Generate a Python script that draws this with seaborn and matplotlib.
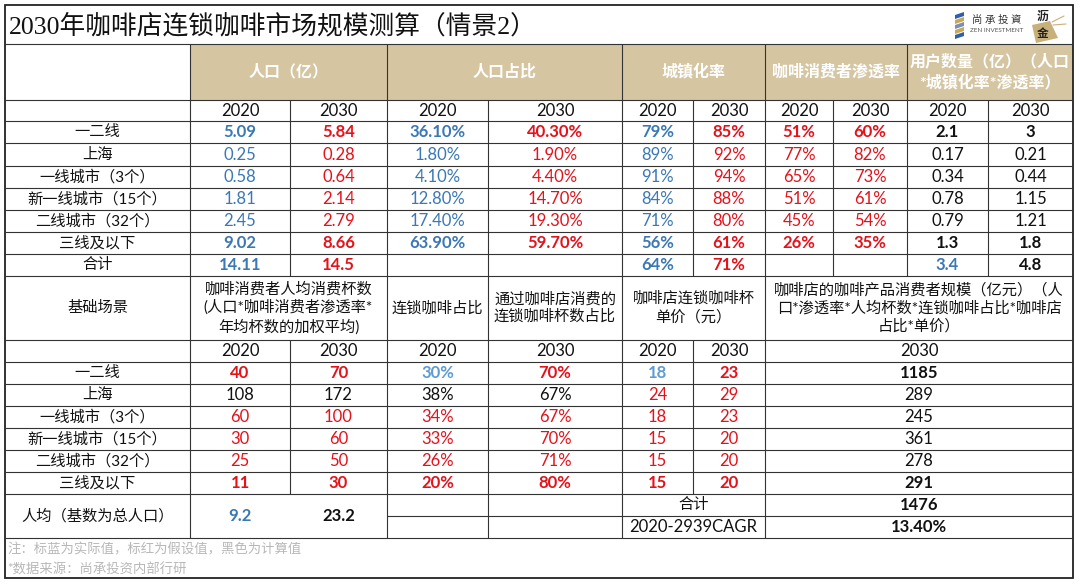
import matplotlib.pyplot as plt
import seaborn as sns
from matplotlib.patches import Rectangle, Polygon

# ---- data ----
regions = ['一二线', '上海', '一线城市（3个）', '新一线城市（15个）', '二线城市（32个）', '三线及以下']
pop_2020 = [5.09, 0.25, 0.58, 1.81, 2.45, 9.02]
pop_2030 = [5.84, 0.28, 0.64, 2.14, 2.79, 8.66]
share_2020 = [36.10, 1.80, 4.10, 12.80, 17.40, 63.90]
share_2030 = [40.30, 1.90, 4.40, 14.70, 19.30, 59.70]
urban_2020 = [79, 89, 91, 84, 71, 56]
urban_2030 = [85, 92, 94, 88, 80, 61]
pen_2020 = [51, 77, 65, 51, 45, 26]
pen_2030 = [60, 82, 73, 61, 54, 35]
users_2020 = [2.1, 0.17, 0.34, 0.78, 0.79, 1.3]
users_2030 = [3, 0.21, 0.44, 1.15, 1.21, 1.8]
pop_total = [14.11, 14.5]
urban_total = [64, 71]
users_total = [3.4, 4.8]

cups_2020 = [40, 108, 60, 30, 25, 11]
cups_2030 = [70, 172, 100, 60, 50, 30]
chain_share_2020 = [30, 38, 34, 33, 26, 20]
store_share_2030 = [70, 67, 67, 70, 71, 80]
price_2020 = [18, 24, 18, 15, 15, 15]
price_2030 = [23, 29, 23, 20, 20, 20]
market_2030 = [1185, 289, 245, 361, 278, 291]
cups_avg = [9.2, 23.2]
market_total = 1476
cagr = '13.40%'

top_headers = ['人口（亿）', '人口占比', '城镇化率', '咖啡消费者渗透率', '用户数量（亿）（人口\n*城镇化率*渗透率）']
bottom_headers = ['基础场景', '咖啡消费者人均消费杯数\n(人口*咖啡消费者渗透率*\n年均杯数的加权平均)', '连锁咖啡占比',
                  '通过咖啡店消费的\n连锁咖啡杯数占比', '咖啡店连锁咖啡杯\n单价（元）',
                  '咖啡店的咖啡产品消费者规模（亿元）（人\n口*渗透率*人均杯数*连锁咖啡占比*咖啡店\n占比*单价）']
notes = ['注：标蓝为实际值，标红为假设值，黑色为计算值', '*数据来源：尚承投资内部行研']

# colour codes per column
top_colors = ['b', 'r', 'b', 'r', 'b', 'r', 'r', 'r', 'k', 'k']
bottom_colors = [['r', 'r', 'lb', 'r', 'lb', 'r', 'k'],
                 ['k', 'k', 'k', 'k', 'r', 'r', 'k']] + [['r'] * 6 + ['k']] * 4
bold_rows = [0, 5]

C = {'b': '#3b78b4', 'lb': '#5f9bd3', 'r': '#e3121b', 'k': '#111111'}
TAN = '#d5c5a1'

# ---- layout ----
X = [5, 190, 290, 387, 488, 622, 693, 765, 833, 907, 988, 1073]
YT = [44, 100, 121, 143, 166, 188, 210, 232, 254, 276]
YB = [276, 340, 362, 384, 406, 428, 450, 472, 494, 516, 538]
BOTTOM = 578

sns.set_theme(style='white')
plt.rcParams['font.family'] = ['Lato', 'Noto Sans CJK SC', 'DejaVu Sans']

fig = plt.figure(figsize=(10.8, 5.85), dpi=100)
ax = fig.add_axes([0, 0, 1, 1])
ax.set_xlim(0, 1080)
ax.set_ylim(585, 0)
ax.axis('off')

LC = '#333333'


def hline(y, x0, x1, lw=0.8):
    ax.plot([x0, x1], [y, y], color=LC, lw=lw, solid_capstyle='butt')


def vline(x, y0, y1, lw=0.8):
    ax.plot([x, x], [y0, y1], color=LC, lw=lw, solid_capstyle='butt')


def put(c0, c1, r0, r1, txt, color='k', bold=False, size=12, **kw):
    ax.text((X[c0] + X[c1]) / 2, (r0 + r1) / 2, txt, color=C.get(color, color),
            fontweight='bold' if bold else 'normal', fontsize=size,
            ha='center', va='center', **kw)


# title
ax.text(9, 26, '2030年咖啡店连锁咖啡市场规模测算（情景2）', fontsize=18.5, va='center', ha='left',
        family=['Liberation Serif', 'Noto Sans CJK SC'], color='#111111')

# logo
for i, col in enumerate(['#2f5fa8', '#c9a857', '#7d8fb0', '#c9a857', '#2f5fa8']):
    ax.add_patch(Polygon([[955, 15 + i * 5], [964, 12 + i * 5], [964, 16 + i * 5], [955, 19 + i * 5]],
                         closed=True, color=col, lw=0))
ax.text(997, 20, '尚 承 投 資', fontsize=7.5, ha='center', va='center', color='#333333')
ax.text(997, 30, 'ZEN INVESTMENT', fontsize=4.5, ha='center', va='center', color='#555555')
ax.add_patch(Polygon([[1032, 25], [1050, 21], [1058, 38], [1036, 43]], closed=True, color='#c8b07a', lw=0))
ax.plot([1052, 1064], [22, 16], color='#c8b07a', lw=0.8)
ax.plot([1053, 1066], [25, 24], color='#c8b07a', lw=0.8)
ax.text(1043, 16, '沥', fontsize=8.5, ha='center', va='center', color='#222222', fontweight='bold')
ax.text(1043, 33, '金', fontsize=8.5, ha='center', va='center', color='#222222', fontweight='bold')

# header fill
ax.add_patch(Rectangle((X[1], YT[0]), X[-1] - X[1], YT[1] - YT[0], color=TAN, lw=0))
for (c0, c1), h in zip([(1, 3), (3, 5), (5, 7), (7, 9), (9, 11)], top_headers):
    put(c0, c1, YT[0], YT[1], h, color='white', bold=True, size=11.5, linespacing=1.4)

# year row top
for k in range(10):
    put(k + 1, k + 2, YT[1], YT[2], '2020' if k % 2 == 0 else '2030')

# top table body
for i, reg in enumerate(regions):
    r0, r1 = YT[i + 2], YT[i + 3]
    bold = i in bold_rows
    put(0, 1, r0, r1, reg, size=11)
    vals = ['{:g}'.format(pop_2020[i]), '{:g}'.format(pop_2030[i]),
            '{:.2f}%'.format(share_2020[i]), '{:.2f}%'.format(share_2030[i]),
            '{}%'.format(urban_2020[i]), '{}%'.format(urban_2030[i]),
            '{}%'.format(pen_2020[i]), '{}%'.format(pen_2030[i]),
            '{:g}'.format(users_2020[i]), '{:g}'.format(users_2030[i])]
    for k, v in enumerate(vals):
        put(k + 1, k + 2, r0, r1, v, color=top_colors[k], bold=bold)

# total row top
r0, r1 = YT[8], YT[9]
put(0, 1, r0, r1, '合计', size=11)
put(1, 2, r0, r1, '{:g}'.format(pop_total[0]), 'b', True)
put(2, 3, r0, r1, '{:g}'.format(pop_total[1]), 'r', True)
put(5, 6, r0, r1, '{}%'.format(urban_total[0]), 'b', True)
put(6, 7, r0, r1, '{}%'.format(urban_total[1]), 'r', True)
put(9, 10, r0, r1, '{:g}'.format(users_total[0]), 'b', True)
put(10, 11, r0, r1, '{:g}'.format(users_total[1]), 'k', True)

# bottom header
for (c0, c1), h in zip([(0, 1), (1, 3), (3, 4), (4, 5), (5, 7), (7, 11)], bottom_headers):
    put(c0, c1, YB[0], YB[1], h, size=11, linespacing=1.3)

# bottom year row
for (c0, c1), yr in zip([(1, 2), (2, 3), (3, 4), (4, 5), (5, 6), (6, 7), (7, 11)],
                        ['2020', '2030', '2020', '2030', '2020', '2030', '2030']):
    put(c0, c1, YB[1], YB[2], yr)

bcols = [(1, 2), (2, 3), (3, 4), (4, 5), (5, 6), (6, 7), (7, 11)]
for i, reg in enumerate(regions):
    r0, r1 = YB[i + 2], YB[i + 3]
    bold = i in bold_rows
    put(0, 1, r0, r1, reg, size=11)
    vals = [cups_2020[i], cups_2030[i], '{}%'.format(chain_share_2020[i]), '{}%'.format(store_share_2030[i]),
            price_2020[i], price_2030[i], market_2030[i]]
    for k, v in enumerate(vals):
        put(bcols[k][0], bcols[k][1], r0, r1, str(v), color=bottom_colors[i][k], bold=bold)

# bottom totals
put(0, 1, YB[8], YB[10], '人均（基数为总人口）', size=11)
put(1, 2, YB[8], YB[10], '{:g}'.format(cups_avg[0]), 'b', True)
put(2, 3, YB[8], YB[10], '{:g}'.format(cups_avg[1]), 'k', True)
put(5, 7, YB[8], YB[9], '合计', size=11)
put(7, 11, YB[8], YB[9], str(market_total), 'k', True)
put(5, 7, YB[9], YB[10], '2020-2939CAGR')
put(7, 11, YB[9], YB[10], cagr, 'k', True)

# notes
ax.text(7, 549, notes[0], fontsize=9.6, color='#b8b8b8', va='center')
ax.text(7, 569, notes[1], fontsize=9.6, color='#b8b8b8', va='center')

# ---- grid lines ----
ax.add_patch(Rectangle((X[0], 5), X[-1] - X[0], BOTTOM - 5, fill=False, ec='#222222', lw=1.3))
hline(YT[0], X[0], X[-1])
for x in [X[1], X[3], X[5], X[7], X[9]]:
    vline(x, YT[0], YT[1])
for y in YT[1:]:
    hline(y, X[0], X[-1])
for x in X[1:-1]:
    vline(x, YT[1], YT[-1])
for x in [X[1], X[3], X[4], X[5], X[7]]:
    vline(x, YB[0], YB[1])
for y in YB[1:9]:
    hline(y, X[0], X[-1])
for x in X[1:8]:
    vline(x, YB[1], YB[8])
hline(YB[9], X[3], X[-1])
hline(YB[10], X[0], X[-1])
for x in [X[1], X[3], X[4], X[5], X[7]]:
    vline(x, YB[8], YB[10])

fig.savefig('out.png', dpi=100)
